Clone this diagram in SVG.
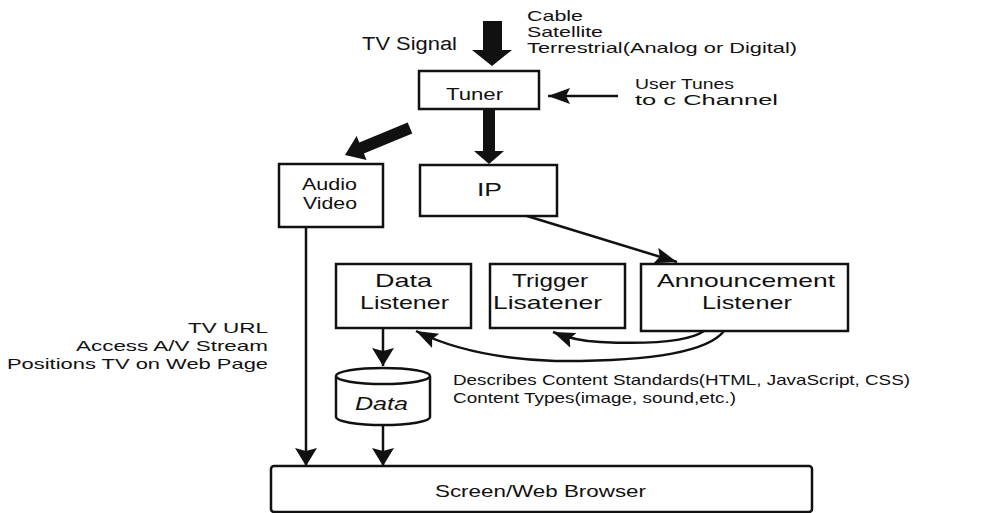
<svg xmlns="http://www.w3.org/2000/svg" width="1001" height="513" viewBox="0 0 1001 513">
<style>
.t{font-family:"Liberation Sans",Arial,Helvetica,sans-serif;fill:#111;}
.box{fill:#fff;stroke:#111;stroke-width:2.5;}
.ln{fill:none;stroke:#111;stroke-width:2.5;}
.fat{fill:#111;stroke:none;}
</style>
<defs>
<marker id="ah" markerUnits="userSpaceOnUse" markerWidth="20" markerHeight="24" refX="18" refY="11" orient="auto">
<path d="M0,0 L18,11 L0,22 L3,11 z" fill="#111"/>
</marker>
<marker id="ahs" markerUnits="userSpaceOnUse" markerWidth="24" markerHeight="20" refX="22" refY="8" orient="auto">
<path d="M0,0 L22,8 L0,16 L4,8 z" fill="#111"/>
</marker>
</defs>
<rect width="1001" height="513" fill="#fff"/>

<g id="labels">
<text class="t" x="362" y="50" font-size="18" textLength="95" lengthAdjust="spacingAndGlyphs">TV Signal</text>
<text class="t" font-size="15"><tspan x="527" y="21" textLength="56" lengthAdjust="spacingAndGlyphs">Cable</tspan><tspan x="527" y="37" textLength="76" lengthAdjust="spacingAndGlyphs">Satellite</tspan><tspan x="527" y="53" textLength="270" lengthAdjust="spacingAndGlyphs">Terrestrial(Analog or Digital)</tspan></text>
<text class="t" font-size="14"><tspan x="635" y="89" textLength="99" lengthAdjust="spacingAndGlyphs">User Tunes</tspan><tspan x="635" y="105" textLength="143" lengthAdjust="spacingAndGlyphs">to c Channel</tspan></text>
<text class="t" font-size="15" text-anchor="end"><tspan x="268" y="333" textLength="80" lengthAdjust="spacingAndGlyphs">TV URL</tspan><tspan x="268" y="351" textLength="192" lengthAdjust="spacingAndGlyphs">Access A/V Stream</tspan><tspan x="268" y="369" textLength="261" lengthAdjust="spacingAndGlyphs">Positions TV on Web Page</tspan></text>
<text class="t" font-size="15"><tspan x="453" y="385" textLength="457" lengthAdjust="spacingAndGlyphs">Describes Content Standards(HTML, JavaScript, CSS)</tspan><tspan x="453" y="403" textLength="283" lengthAdjust="spacingAndGlyphs">Content Types(image, sound,etc.)</tspan></text>
</g>

<g id="tuner">
<rect class="box" x="419" y="71" width="120" height="38"/>
<text class="t" x="446" y="100" font-size="16" textLength="57" lengthAdjust="spacingAndGlyphs">Tuner</text>
</g>

<g id="audio-video">
<rect class="box" x="279" y="164" width="104" height="63"/>
<text class="t" font-size="17"><tspan x="302" y="190" textLength="55" lengthAdjust="spacingAndGlyphs">Audio</tspan><tspan x="303" y="209" textLength="54" lengthAdjust="spacingAndGlyphs">Video</tspan></text>
</g>

<g id="ip">
<rect class="box" x="420" y="165" width="137" height="51"/>
<text class="t" x="477" y="196" font-size="19" textLength="25" lengthAdjust="spacingAndGlyphs">IP</text>
</g>

<g id="data-listener">
<rect class="box" x="336" y="264" width="135" height="64"/>
<text class="t" font-size="19"><tspan x="375" y="287" textLength="57" lengthAdjust="spacingAndGlyphs">Data</tspan><tspan x="360" y="309" textLength="89" lengthAdjust="spacingAndGlyphs">Listener</tspan></text>
</g>

<g id="trigger-listener">
<rect class="box" x="490" y="264" width="135" height="64"/>
<text class="t" font-size="19"><tspan x="512" y="287" textLength="76" lengthAdjust="spacingAndGlyphs">Trigger</tspan><tspan x="493" y="309" textLength="109" lengthAdjust="spacingAndGlyphs">Lisatener</tspan></text>
</g>

<g id="announcement-listener">
<rect class="box" x="641" y="264" width="207" height="67"/>
<text class="t" font-size="19"><tspan x="657" y="287" textLength="178" lengthAdjust="spacingAndGlyphs">Announcement</tspan><tspan x="702" y="309" textLength="90" lengthAdjust="spacingAndGlyphs">Listener</tspan></text>
</g>

<g id="data">
<path class="box" d="M336,376 L336,417 A47,8 0 0 0 430,417 L430,376"/>
<ellipse class="box" cx="383" cy="376" rx="47" ry="8"/>
<text class="t" x="355" y="410" font-size="18" font-style="italic" textLength="53" lengthAdjust="spacingAndGlyphs">Data</text>
</g>

<g id="browser">
<rect class="box" x="271" y="466" width="541" height="46" rx="3"/>
<text class="t" x="435" y="497" font-size="17" textLength="211" lengthAdjust="spacingAndGlyphs">Screen/Web Browser</text>
</g>

<g id="connectors">
<polygon class="fat" points="483,21 502,21 502,50 512,50 492,66 472,50 483,50"/>
<polygon class="fat" points="483,109 495,109 495,151 504,151 489,164 474,151 483,151"/>
<polygon class="fat" points="407.7,122.5 412.3,133.5 363.9,153.6 366.6,160.1 345,155 356.6,136.1 359.3,142.6"/>
<line class="ln" x1="618" y1="96" x2="548" y2="96" marker-end="url(#ahs)"/>
<path class="ln" d="M527,216 L677,262" marker-end="url(#ahs)"/>
<line class="ln" x1="306" y1="227" x2="306" y2="466" marker-end="url(#ah)"/>
<line class="ln" x1="383" y1="328" x2="383" y2="366" marker-end="url(#ah)"/>
<line class="ln" x1="383" y1="426" x2="383" y2="466" marker-end="url(#ah)"/>
<path class="ln" d="M724,331 Q700,362 555,361 Q470,358 416,331" marker-end="url(#ahs)"/>
<path class="ln" d="M704,331 Q682,346 600,342 Q575,341 553,332" marker-end="url(#ahs)"/>
</g>
</svg>
